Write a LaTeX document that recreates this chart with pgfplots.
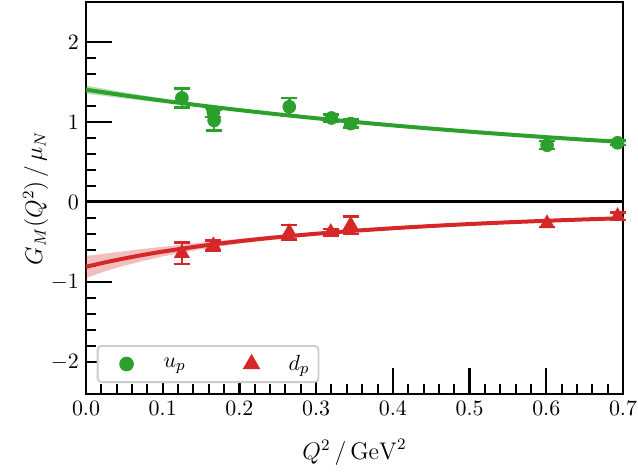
\documentclass[border=0pt]{standalone}
\usepackage{pgfplots}
\pgfplotsset{compat=1.18}
\usepgfplotslibrary{fillbetween}
\definecolor{mygreen}{RGB}{44,160,44}
\definecolor{myred}{RGB}{214,39,40}

% fit curves with bands: Q2, central, lower, upper
\pgfplotstableread{
q    c       lo      hi
0.00 1.404   1.354   1.454
0.05 1.3328  1.2948  1.3708
0.10 1.2669  1.2399  1.2939
0.15 1.2058  1.1878  1.2238
0.20 1.1490  1.1370  1.1610
0.25 1.0961  1.0861  1.1061
0.30 1.0468  1.0368  1.0568
0.35 1.0007  0.9907  1.0107
0.40 0.9576  0.9476  0.9676
0.45 0.9172  0.9082  0.9262
0.50 0.8794  0.8704  0.8884
0.55 0.8438  0.8348  0.8528
0.60 0.8103  0.8023  0.8183
0.65 0.7788  0.7708  0.7868
0.70 0.7491  0.7411  0.7571
}\upfit
\pgfplotstableread{
q     c       lo      hi
0.000 -0.810  -0.950  -0.675
0.025 -0.7548 -0.8648 -0.6448
0.050 -0.7055 -0.7955 -0.6155
0.075 -0.6608 -0.7358 -0.5858
0.100 -0.6201 -0.6801 -0.5601
0.150 -0.5494 -0.5914 -0.5074
0.200 -0.4900 -0.5200 -0.4600
0.250 -0.4398 -0.4648 -0.4148
0.300 -0.3969 -0.4169 -0.3769
0.350 -0.3600 -0.3800 -0.3400
0.400 -0.3280 -0.3470 -0.3090
0.450 -0.3001 -0.3181 -0.2821
0.500 -0.2756 -0.2926 -0.2586
0.550 -0.2540 -0.2700 -0.2380
0.600 -0.2349 -0.2504 -0.2194
0.650 -0.2178 -0.2328 -0.2028
0.700 -0.2025 -0.2175 -0.1875
}\dpfit

\begin{document}
\begin{tikzpicture}
\begin{axis}[
    scale only axis,
    width=268.5pt, height=196pt,
    xmin=0, xmax=0.7, ymin=-2.4, ymax=2.5,
    xtick={0,0.1,0.2,0.3,0.4,0.5,0.6,0.7},
    ytick={-2,-1,0,1,2},
    minor x tick num=4, minor y tick num=4,
    xtick pos=bottom, ytick pos=left,
    tick align=inside,
    axis line style={line width=1.4pt},
    major tick length=13pt, minor tick length=5pt,
    major tick style={line width=1.2pt, black},
    minor tick style={line width=1pt, black},
    xticklabel style={/pgf/number format/.cd, fixed, fixed zerofill, precision=1},
    tick label style={font=\fontsize{11}{13}\selectfont},
    label style={font=\fontsize{12}{14}\selectfont},
    xlabel={$Q^2\,/\,\mathrm{GeV}^2$},
    ylabel={$G_M(Q^2)\,/\,\mu_N$},
    xlabel style={at={(axis description cs:0.5,-0.148)}, anchor=center},
    ylabel style={at={(axis description cs:-0.094,0.5)}, anchor=center},
    legend style={at={(0.02,0.028)}, anchor=south west, draw=black!20, line width=0.9pt,
        rounded corners=2pt, font=\fontsize{11}{13}\selectfont, inner sep=2.5pt},
    legend columns=2,
    legend image code/.code={\path[draw=none, fill=none] (0,0) -- (1.0cm,0);
        \draw[#1] plot[only marks] coordinates {(0.42cm,0cm)};},
    /tikz/every even column/.append style={column sep=19pt},
    clip=false,
]
% bands
\addplot[name path=uplo, draw=none, forget plot] table[x=q, y=lo] {\upfit};
\addplot[name path=uphi, draw=none, forget plot] table[x=q, y=hi] {\upfit};
\addplot[mygreen, fill opacity=0.35, draw=none, forget plot] fill between[of=uplo and uphi];
\addplot[name path=dplo, draw=none, forget plot] table[x=q, y=lo] {\dpfit};
\addplot[name path=dphi, draw=none, forget plot] table[x=q, y=hi] {\dpfit};
\addplot[myred, fill opacity=0.3, draw=none, forget plot] fill between[of=dplo and dphi];
% zero line
\addplot[black, line width=1.5pt, forget plot] coordinates {(0,0) (0.7,0)};
% fits
\addplot[mygreen, line width=2pt, smooth, forget plot] table[x=q, y=c] {\upfit};
\addplot[myred, line width=2pt, smooth, forget plot] table[x=q, y=c] {\dpfit};
% data
\addplot[mygreen, only marks, mark=*, mark size=3.2pt, forget plot,
    error bars/.cd, y dir=both, y explicit,
    error bar style={line width=1.3pt},
    error mark options={rotate=90, mark size=4pt, line width=1.3pt}]
  coordinates {
    (0.125,1.30) +- (0,0.12)
    (0.166,1.12) +- (0,0.06)
    (0.167,1.02) +- (0,0.13)
    (0.265,1.19) +- (0,0.11)
    (0.320,1.05) +- (0,0.045)
    (0.345,0.98) +- (0,0.05)
    (0.601,0.71) +- (0,0.05)
    (0.693,0.74) +- (0,0.03)
  };
\addplot[myred, only marks, mark=triangle*, mark size=4.2pt, forget plot,
    error bars/.cd, y dir=both, y explicit,
    error bar style={line width=1.3pt},
    error mark options={rotate=90, mark size=4pt, line width=1.3pt}]
  coordinates {
    (0.125,-0.64) +- (0,0.135)
    (0.166,-0.545) +- (0,0.06)
    (0.265,-0.38) +- (0,0.09)
    (0.319,-0.38) +- (0,0.04)
    (0.345,-0.29) +- (0,0.11)
    (0.601,-0.27) +- (0,0.045)
    (0.693,-0.18) +- (0,0.045)
  };
\addlegendimage{mark=*, mygreen, mark size=3.2pt}
\addlegendentry{$u_p$}
\addlegendimage{mark=triangle*, myred, mark size=4.2pt}
\addlegendentry{$d_p$}
\end{axis}
\pgfresetboundingbox
\path[use as bounding box] ([shift={(-43pt,-40pt)}]current axis.south west) rectangle ([shift={(7.5pt,1pt)}]current axis.north east);
\end{tikzpicture}
\end{document}
